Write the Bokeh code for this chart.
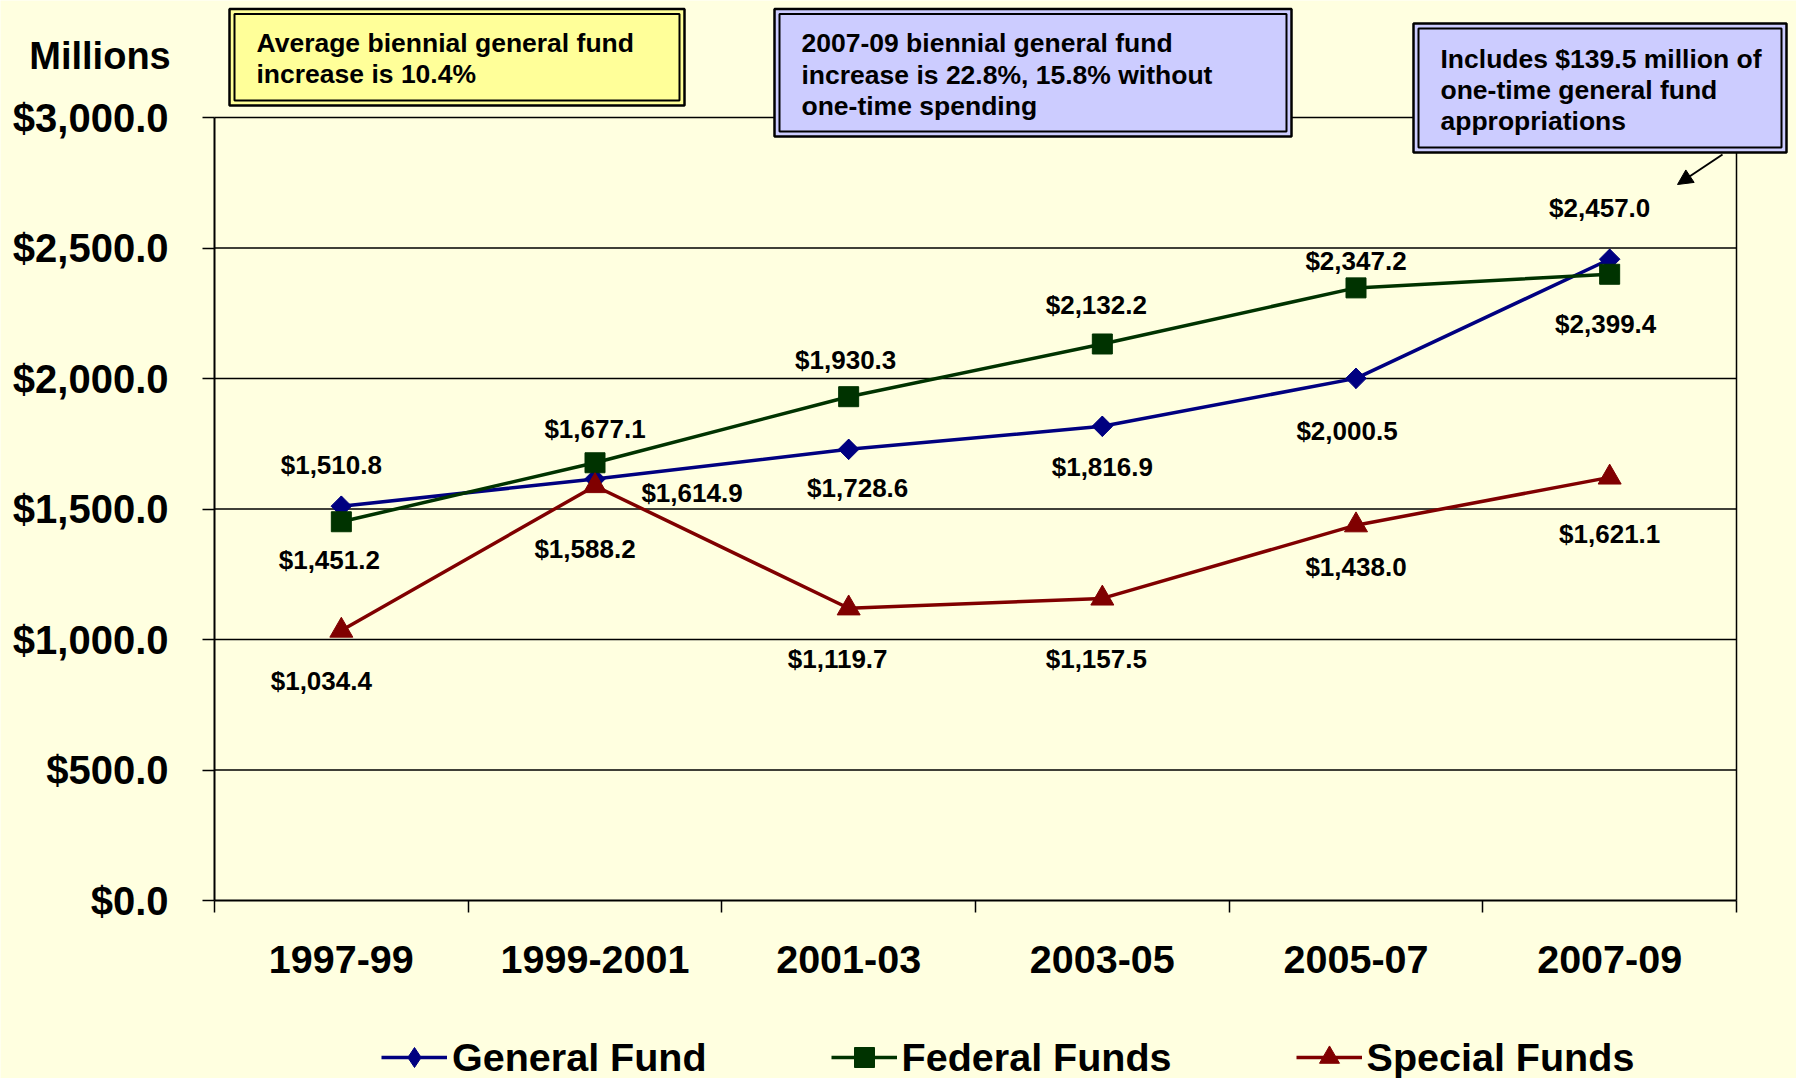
import numpy as np
from bokeh.plotting import figure
from bokeh.models import (FixedTicker, NumeralTickFormatter, Legend, LegendItem,
                          Label, Arrow, NormalHead, ColumnDataSource, Range1d)
from bokeh.core.properties import value
from bokeh.embed import file_html
from bokeh.resources import INLINE

# ---------------- data ----------------
categories = ["1997-99", "1999-2001", "2001-03", "2003-05", "2005-07", "2007-09"]
general_fund = [1510.8, 1614.9, 1728.6, 1816.9, 2000.5, 2457.0]
federal_funds = [1451.2, 1677.1, 1930.3, 2132.2, 2347.2, 2399.4]
special_funds = [1034.4, 1588.2, 1119.7, 1157.5, 1438.0, 1621.1]
y_ticks = [0, 500, 1000, 1500, 2000, 2500, 3000]
series_names = ["General Fund", "Federal Funds", "Special Funds"]

# label offsets in screen pixels (dx, dy; dy positive = down)
general_offsets = [(-10, -41), (97, 14), (9, 39), (0, 41), (-9, 53), (-10, -51)]
federal_offsets = [(-12, 38), (0, -34), (-3, -37), (-6, -39), (0, -27), (-4, 50)]
special_offsets = [(-20, 50), (-10, 63), (-11, 51), (-6, 61), (0, 42), (0, 57)]

# ---------------- style / geometry ----------------
FONT = "Liberation Sans"
BG = "#FFFFE0"
NAVY, GREEN, RED = "#000080", "#003300", "#800000"
W, H = 1796, 1078
FL, FR_AX, FB = 214, 1736, 900           # page pixels of the plot area
PX_CAT = (FR_AX - FL) / len(categories)
PX_UNIT = 130.5 / 500


def dx(px):
    return (px - FL) / PX_CAT


def dy(py):
    return (FB - py) / PX_UNIT


p = figure(width=W, height=H, output_backend="svg", toolbar_location=None,
           x_range=Range1d(dx(0), dx(W)), y_range=Range1d(dy(H), dy(0)),
           min_border=0, min_border_left=0, min_border_right=0,
           min_border_top=0, min_border_bottom=0,
           background_fill_color=BG, border_fill_color=BG, outline_line_color=None)
p.xgrid.grid_line_color = None
p.ygrid.grid_line_color = None

ncat = len(categories)
xs = np.arange(ncat) + 0.5

# y axis
ya = p.yaxis[0]
ya.fixed_location = 0
ya.ticker = FixedTicker(ticks=y_ticks, minor_ticks=[])
ya.formatter = NumeralTickFormatter(format="$0,0.0")
ya.bounds = (y_ticks[0], y_ticks[-1])
ya.axis_line_width = 2
ya.axis_line_color = "black"
ya.major_tick_out = 12
ya.major_tick_in = 0
ya.major_tick_line_width = 1.5
ya.major_label_standoff = 34
ya.major_label_text_font = FONT
ya.major_label_text_font_style = "bold"
ya.major_label_text_font_size = "40px"
ya.major_label_text_color = "black"

# x axis
xa = p.xaxis[0]
xa.fixed_location = 0
xa.ticker = FixedTicker(ticks=list(xs), minor_ticks=list(range(ncat + 1)))
xa.major_label_overrides = {float(x): c for x, c in zip(xs, categories)}
xa.bounds = (0, ncat)
xa.axis_line_width = 2
xa.axis_line_color = "black"
xa.major_tick_out = 0
xa.major_tick_in = 0
xa.minor_tick_out = 12
xa.minor_tick_in = 0
xa.minor_tick_line_width = 1.5
xa.minor_tick_line_color = "black"
xa.major_label_standoff = 33
xa.major_label_text_font = FONT
xa.major_label_text_font_style = "bold"
xa.major_label_text_font_size = "39.5px"
xa.major_label_text_color = "black"

# grid lines and right border
p.segment(x0=0, y0=y_ticks[1:], x1=ncat, y1=y_ticks[1:], line_color="black", line_width=1.5)
p.segment(x0=ncat, y0=y_ticks[0], x1=ncat, y1=y_ticks[-1], line_color="black", line_width=1.5)

# series
renderers = []
for vals, col, marker, size, ang in [
        (general_fund, NAVY, "diamond", 20, 0),
        (federal_funds, GREEN, "square", 20, 0),
        (special_funds, RED, "triangle", 23, 0)]:
    rl = p.line(xs, vals, line_color=col, line_width=3.5)
    rm = p.scatter(xs, vals, marker=marker, size=size, angle=ang,
                   fill_color=col, line_color=col)
    if marker == "diamond":
        # broader diamond on top (square turned 45 degrees)
        p.scatter(xs, vals, marker="square", size=14.5, angle=np.pi / 4,
                  fill_color=col, line_color=col)
    renderers.append([rl, rm])


def add_labels(vals, offs):
    src = ColumnDataSource(dict(x=xs, y=vals,
                                t=[f"${v:,.1f}" for v in vals],
                                ox=[o[0] for o in offs], oy=[o[1] for o in offs]))
    p.text(x="x", y="y", text="t", x_offset="ox", y_offset="oy", source=src,
           text_align="center", text_baseline="middle", text_font=value(FONT),
           text_font_style="bold", text_font_size="26px", text_color="black")


add_labels(general_fund, general_offsets)
add_labels(federal_funds, federal_offsets)
add_labels(special_funds, special_offsets)


# annotation boxes (page-pixel geometry)
def note_box(l, r, t, b, fill, lines, tx, ty):
    p.quad(left=dx(l), right=dx(r), top=dy(t), bottom=dy(b),
           fill_color=fill, line_color="black", line_width=2.5)
    p.quad(left=dx(l + 5), right=dx(r - 5), top=dy(t + 5), bottom=dy(b - 5),
           fill_color=None, line_color="black", line_width=2)
    p.text(x=[dx(tx)] * len(lines), y=[dy(v) for v in ty], text=lines,
           text_align="left", text_baseline="middle", text_font=value(FONT),
           text_font_style="bold", text_font_size="26.5px", text_color="black")


note_box(229, 684, 8.5, 105, "#FFFF99",
         ["Average biennial general fund", "increase is 10.4%"], 256, [42, 73])
note_box(774, 1291, 8.5, 136, "#CCCCFF",
         ["2007-09 biennial general fund", "increase is 22.8%, 15.8% without",
          "one-time spending"], 801, [42, 74, 105])
note_box(1413, 1786, 23, 152, "#CCCCFF",
         ["Includes $139.5 million of", "one-time general fund", "appropriations"],
         1440, [58, 89.5, 120])

p.add_layout(Arrow(x_start=dx(1722), y_start=dy(154), x_end=dx(1677), y_end=dy(184),
                   line_color="black", line_width=2,
                   end=NormalHead(size=15, fill_color="black", line_color="black")))

p.add_layout(Label(x=dx(99.5), y=dy(55), text="Millions", text_align="center",
                   text_baseline="middle", text_font=FONT, text_font_style="bold",
                   text_font_size="38px", text_color="black"))

legend = Legend(items=[LegendItem(label=n, renderers=r) for n, r in zip(series_names, renderers)],
                orientation="horizontal", location=(381, -4),
                label_text_font=FONT, label_text_font_style="bold",
                label_text_font_size="39.5px", label_text_color="black",
                glyph_width=66, glyph_height=50, label_standoff=5, spacing=124,
                padding=0, margin=0, background_fill_alpha=0, border_line_color=None)
p.add_layout(legend, "center")

open("out.html", "w").write(file_html(p, INLINE))
